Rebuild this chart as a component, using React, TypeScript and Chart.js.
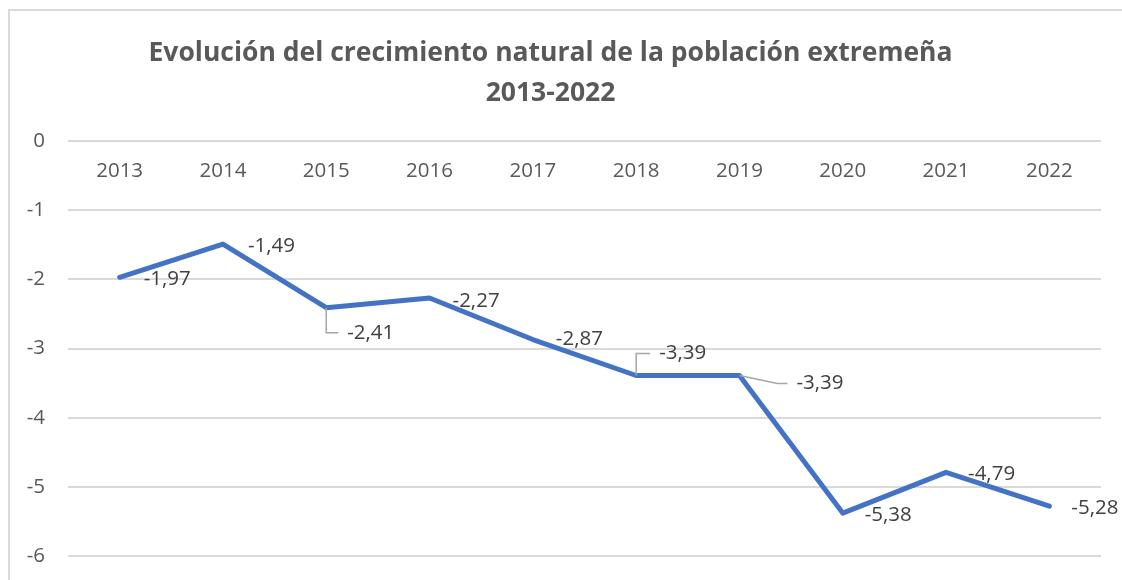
import React, { useEffect, useRef } from "react";
import { Chart, registerables } from "chart.js";

Chart.register(...registerables);

const years = ["2013", "2014", "2015", "2016", "2017", "2018", "2019", "2020", "2021", "2022"];
const growth = [-1.97, -1.49, -2.41, -2.27, -2.87, -3.39, -3.39, -5.38, -4.79, -5.28];
const titleLines = ["Evolución del crecimiento natural de la población extremeña", "2013-2022"];

// label placement (pixels relative to point): [dx, dy, leaderCornerDx or null]
const labelOffsets: [number, number, number | null][] = [
  [24, 2, null],
  [25, 2, null],
  [21, 25, 0],
  [23, 3, null],
  [23, 0, null],
  [23, -22, 0],
  [57, 8, 38],
  [22, 2, null],
  [22, 2, null],
  [22, 2, null],
];

const FONT = "'Open Sans', Lato, sans-serif";

const labelPlugin = {
  id: "pointLabels",
  afterDatasetsDraw(chart: any) {
    const ctx = chart.ctx;
    const meta = chart.getDatasetMeta(0);
    ctx.save();
    meta.data.forEach((pt: any, i: number) => {
      const [dx, dy, corner] = labelOffsets[i];
      const lx = pt.x + dx;
      const ly = pt.y + dy;
      if (corner !== null) {
        ctx.beginPath();
        ctx.strokeStyle = "#a6a6a6";
        ctx.lineWidth = 1.5;
        ctx.moveTo(pt.x, pt.y);
        ctx.lineTo(pt.x + corner, ly);
        ctx.lineTo(lx - 9, ly);
        ctx.stroke();
      }
      ctx.fillStyle = "#404040";
      ctx.font = `20.5px ${FONT}`;
      ctx.textAlign = "left";
      ctx.textBaseline = "middle";
      ctx.fillText(growth[i].toFixed(2).replace(".", ","), lx, ly);
    });
    ctx.restore();
  },
};

export default function App() {
  const ref = useRef<HTMLCanvasElement>(null);
  useEffect(() => {
    if (!ref.current) return;
    const chart = new Chart(ref.current, {
      type: "line",
      data: {
        labels: years,
        datasets: [
          {
            data: growth,
            borderColor: "#4472c4",
            backgroundColor: "#4472c4",
            borderWidth: 5,
            pointRadius: 0,
            tension: 0,
            borderCapStyle: "round",
            borderJoinStyle: "round",
          },
        ],
      },
      options: {
        animation: false,
        responsive: false,
        maintainAspectRatio: false,
        layout: { padding: { left: 0, right: 21, top: 0, bottom: 24 } },
        plugins: {
          legend: { display: false },
          tooltip: { enabled: false },
          title: {
            display: true,
            text: titleLines,
            color: "#595959",
            font: { family: FONT, size: 26.5, weight: "bold", lineHeight: 1.51 },
            padding: { top: 33, bottom: 28 },
          },
        },
        scales: {
          x: {
            position: { y: 0 } as any,
            offset: true,
            grid: { display: false, drawTicks: false, offset: true },
            border: { display: false },
            ticks: { color: "#595959", font: { family: FONT, size: 20.5 }, padding: 18, maxRotation: 0, autoSkip: false },
            afterFit: (s: any) => {
              s.height = 0;
              s.paddingLeft = 0;
              s.paddingRight = 0;
            },
          },
          y: {
            min: -6,
            max: 0,
            grid: { color: "#d9d9d9", lineWidth: 2, drawTicks: false },
            border: { display: false },
            ticks: { stepSize: 1, color: "#595959", font: { family: FONT, size: 20.5 }, padding: 23 },
            afterFit: (s: any) => {
              s.width = 68;
              s.paddingTop = 0;
              s.paddingBottom = 0;
            },
          },
        },
      },
      plugins: [labelPlugin],
    });
    return () => chart.destroy();
  }, []);
  return (
    <div style={{ position: "absolute", left: 0, top: 0, width: 1122, height: 580, background: "#fff" }}>
      <div
        style={{
          position: "absolute",
          left: 8,
          top: 9,
          right: 0,
          bottom: 0,
          borderLeft: "2px solid #d9d9d9",
          borderTop: "2px solid #d9d9d9",
        }}
      />
      <canvas ref={ref} width={1122} height={580} style={{ position: "absolute", left: 0, top: 0 }} />
    </div>
  );
}
